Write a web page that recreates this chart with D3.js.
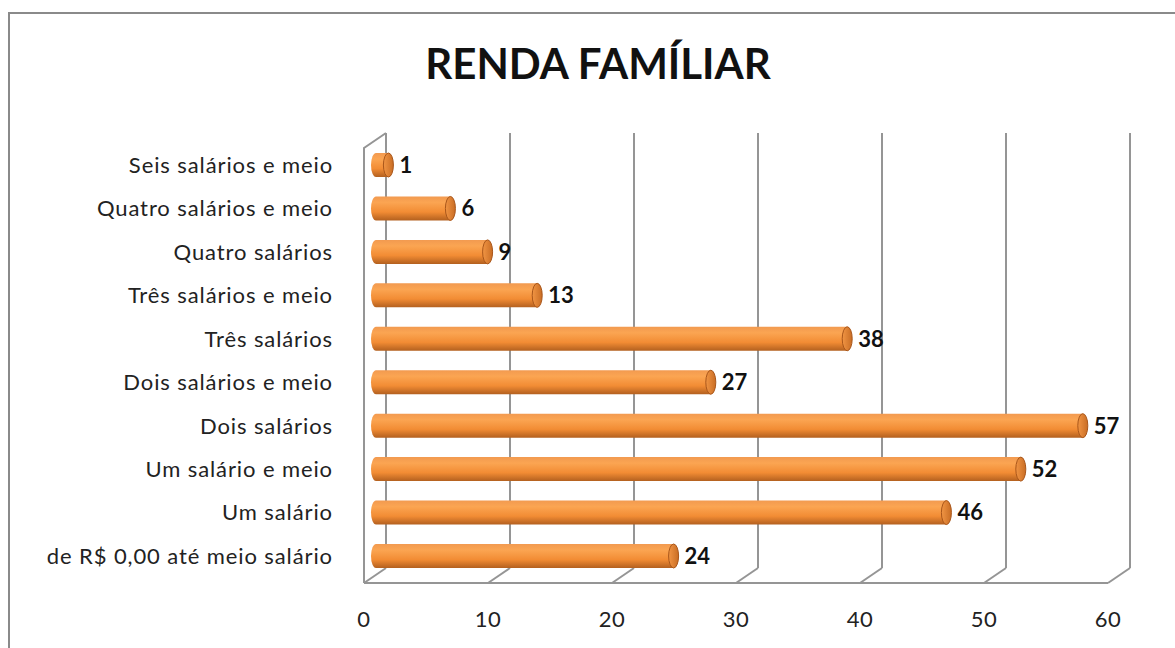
<!DOCTYPE html>
<html>
<head>
<meta charset="utf-8">
<script src="https://cdn.jsdelivr.net/npm/d3@7"></script>
<style>
  body { margin: 0; background: #fff; }
  text { font-family: Lato, "Open Sans", sans-serif; }
</style>
</head>
<body>
<div id="chart"></div>
<script>
var categories = [
  "Seis salários e meio",
  "Quatro salários e meio",
  "Quatro salários",
  "Três salários e meio",
  "Três salários",
  "Dois salários e meio",
  "Dois salários",
  "Um salário e meio",
  "Um salário",
  "de R$ 0,00 até meio salário"
];
var values = [1, 6, 9, 13, 38, 27, 57, 52, 46, 24];
var ticks = [0, 10, 20, 30, 40, 50, 60];

var svgWidth = 1175;
var svgHeight = 648;

// 3d depth offset of the plot box
var depthX = 22;
var depthY = -15;
var floorY = 583;
var wallTop = 148;

var svg = d3.select("#chart")
  .append("svg")
  .attr("width", svgWidth)
  .attr("height", svgHeight);

var defs = svg.append("defs");
var barGrad = defs.append("linearGradient")
  .attr("id", "barGrad")
  .attr("x1", 0).attr("y1", 0).attr("x2", 0).attr("y2", 1);
barGrad.append("stop").attr("offset", "0%").attr("stop-color", "#f29a50");
barGrad.append("stop").attr("offset", "25%").attr("stop-color", "#fba552");
barGrad.append("stop").attr("offset", "65%").attr("stop-color", "#f28c34");
barGrad.append("stop").attr("offset", "100%").attr("stop-color", "#b3601f");

var capGrad = defs.append("linearGradient")
  .attr("id", "capGrad")
  .attr("x1", 0).attr("y1", 0).attr("x2", 1).attr("y2", 0);
capGrad.append("stop").attr("offset", "0%").attr("stop-color", "#f19544");
capGrad.append("stop").attr("offset", "100%").attr("stop-color", "#c96d24");

// outer frame
svg.append("rect")
  .attr("x", 9).attr("y", 13)
  .attr("width", svgWidth + 20).attr("height", svgHeight + 20)
  .attr("fill", "none")
  .attr("stroke", "#8a8a8a")
  .attr("stroke-width", 2);

svg.append("text")
  .attr("x", 598)
  .attr("y", 79)
  .attr("text-anchor", "middle")
  .attr("font-size", "42px")
  .attr("font-weight", "bold")
  .attr("fill", "#111")
  .text("RENDA FAMÍLIAR");

var x = d3.scaleLinear()
  .domain([0, 60])
  .range([364, 1108]);

var y = d3.scalePoint()
  .domain(categories)
  .range([165, 556]);

var grid = svg.append("g")
  .attr("stroke", "#959595")
  .attr("stroke-width", 2)
  .attr("fill", "none");

// back wall gridlines
grid.selectAll("line.back")
  .data(ticks)
  .enter()
  .append("line")
  .attr("class", "back")
  .attr("x1", d => x(d) + depthX)
  .attr("x2", d => x(d) + depthX)
  .attr("y1", wallTop + depthY)
  .attr("y2", floorY + depthY);

// floor diagonals
grid.selectAll("line.floor")
  .data(ticks)
  .enter()
  .append("line")
  .attr("class", "floor")
  .attr("x1", d => x(d))
  .attr("x2", d => x(d) + depthX)
  .attr("y1", floorY)
  .attr("y2", floorY + depthY);

// front floor edge and left wall
grid.append("line")
  .attr("x1", x(0)).attr("x2", x(60))
  .attr("y1", floorY).attr("y2", floorY);
grid.append("path")
  .attr("d", `M${x(0)},${floorY} L${x(0)},${wallTop} L${x(0) + depthX},${wallTop + depthY}`);

// bars as cylinders
var barH = 24;
var x0 = x(0) + 12;
var bars = svg.append("g");

var barG = bars.selectAll("g")
  .data(categories)
  .enter()
  .append("g");

barG.append("path")
  .attr("d", (d, i) => {
    var len = x(values[i]) - x(0);
    var cy = y(d);
    return `M${x0},${cy - barH / 2} L${x0 + len},${cy - barH / 2} L${x0 + len},${cy + barH / 2} L${x0},${cy + barH / 2}` +
      ` A5,${barH / 2} 0 0 1 ${x0},${cy - barH / 2} Z`;
  })
  .attr("fill", "url(#barGrad)");

barG.append("ellipse")
  .attr("cx", (d, i) => x0 + x(values[i]) - x(0))
  .attr("cy", d => y(d))
  .attr("rx", 5)
  .attr("ry", barH / 2)
  .attr("fill", "url(#capGrad)")
  .attr("stroke", "#a9561a")
  .attr("stroke-width", 1);

barG.append("text")
  .attr("x", (d, i) => x0 + x(values[i]) - x(0) + 11)
  .attr("y", d => y(d))
  .attr("dy", "0.36em")
  .attr("font-size", "22px")
  .attr("font-weight", "bold")
  .attr("fill", "#111")
  .text((d, i) => values[i]);

// category labels
svg.append("g")
  .selectAll("text")
  .data(categories)
  .enter()
  .append("text")
  .attr("x", 333)
  .attr("y", d => y(d))
  .attr("dy", "0.36em")
  .attr("text-anchor", "end")
  .attr("font-size", "22px")
  .attr("letter-spacing", "0.9px")
  .attr("fill", "#222")
  .text(d => d);

// x tick labels
svg.append("g")
  .selectAll("text")
  .data(ticks)
  .enter()
  .append("text")
  .attr("x", d => x(d))
  .attr("y", 619)
  .attr("dy", "0.36em")
  .attr("text-anchor", "middle")
  .attr("font-size", "22px")
  .attr("letter-spacing", "0.5px")
  .attr("fill", "#222")
  .text(d => d);
</script>
</body>
</html>
